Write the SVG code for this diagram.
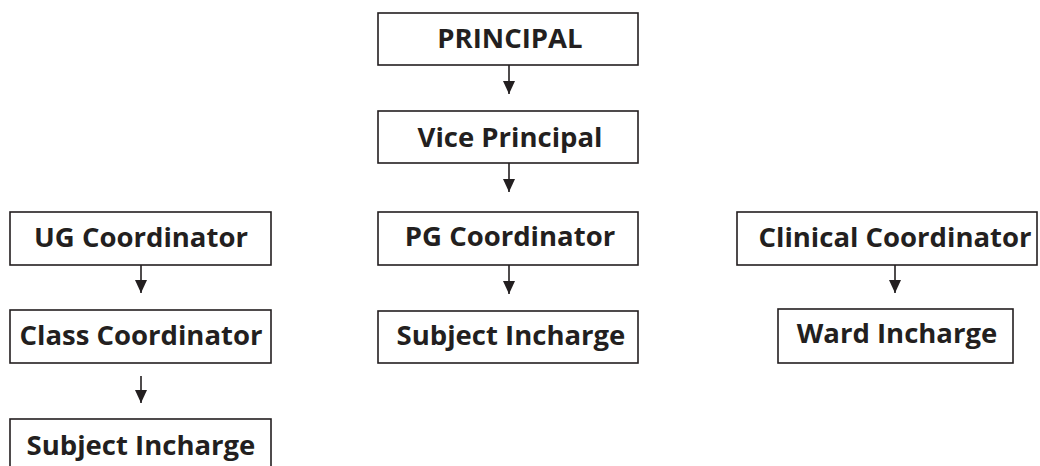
<svg xmlns="http://www.w3.org/2000/svg" width="1040" height="466" viewBox="0 0 1040 466">
<defs>
<style>
.box{fill:#fff;stroke:#231f20;stroke-width:1.6}
.t{font-family:"Open Sans","Noto Sans",sans-serif;font-weight:bold;font-size:27.5px;fill:#231f20;text-anchor:middle}
.c{stroke:#231f20;stroke-width:1.6;fill:none}
</style>
<marker id="arr" viewBox="0 0 13 12" refX="13" refY="6" markerWidth="13" markerHeight="12" markerUnits="userSpaceOnUse" orient="auto">
<path d="M0,0 L13,6 L0,12 Z" fill="#231f20"/>
</marker>
</defs>
<rect width="1040" height="466" fill="#fff"/>
<g id="connectors">
<line class="c" x1="509" y1="65" x2="509" y2="94" marker-end="url(#arr)"/>
<line class="c" x1="509" y1="163" x2="509" y2="192" marker-end="url(#arr)"/>
<line class="c" x1="509" y1="265" x2="509" y2="294" marker-end="url(#arr)"/>
<line class="c" x1="141" y1="265" x2="141" y2="293" marker-end="url(#arr)"/>
<line class="c" x1="141" y1="376" x2="141" y2="403" marker-end="url(#arr)"/>
<line class="c" x1="895" y1="265" x2="895" y2="293" marker-end="url(#arr)"/>
</g>
<g id="principal"><rect class="box" x="378" y="13" width="260" height="52"/><text class="t" x="510" y="48">PRINCIPAL</text></g>
<g id="vice-principal"><rect class="box" x="378" y="111" width="260" height="52"/><text class="t" x="510" y="147">Vice Principal</text></g>
<g id="pg-coordinator"><rect class="box" x="378" y="212" width="260" height="53"/><text class="t" x="510" y="246">PG Coordinator</text></g>
<g id="pg-subject-incharge"><rect class="box" x="378" y="311" width="260" height="52"/><text class="t" x="511" y="345">Subject Incharge</text></g>
<g id="ug-coordinator"><rect class="box" x="10" y="212" width="261" height="53"/><text class="t" x="141" y="247">UG Coordinator</text></g>
<g id="class-coordinator"><rect class="box" x="10" y="310" width="261" height="53"/><text class="t" x="141" y="345">Class Coordinator</text></g>
<g id="ug-subject-incharge"><rect class="box" x="10" y="419" width="261" height="60"/><text class="t" x="141" y="455">Subject Incharge</text></g>
<g id="clinical-coordinator"><rect class="box" x="737" y="212" width="300" height="53"/><text class="t" x="895" y="247">Clinical Coordinator</text></g>
<g id="ward-incharge"><rect class="box" x="778" y="309" width="235" height="54"/><text class="t" x="897" y="343">Ward Incharge</text></g>
</svg>
